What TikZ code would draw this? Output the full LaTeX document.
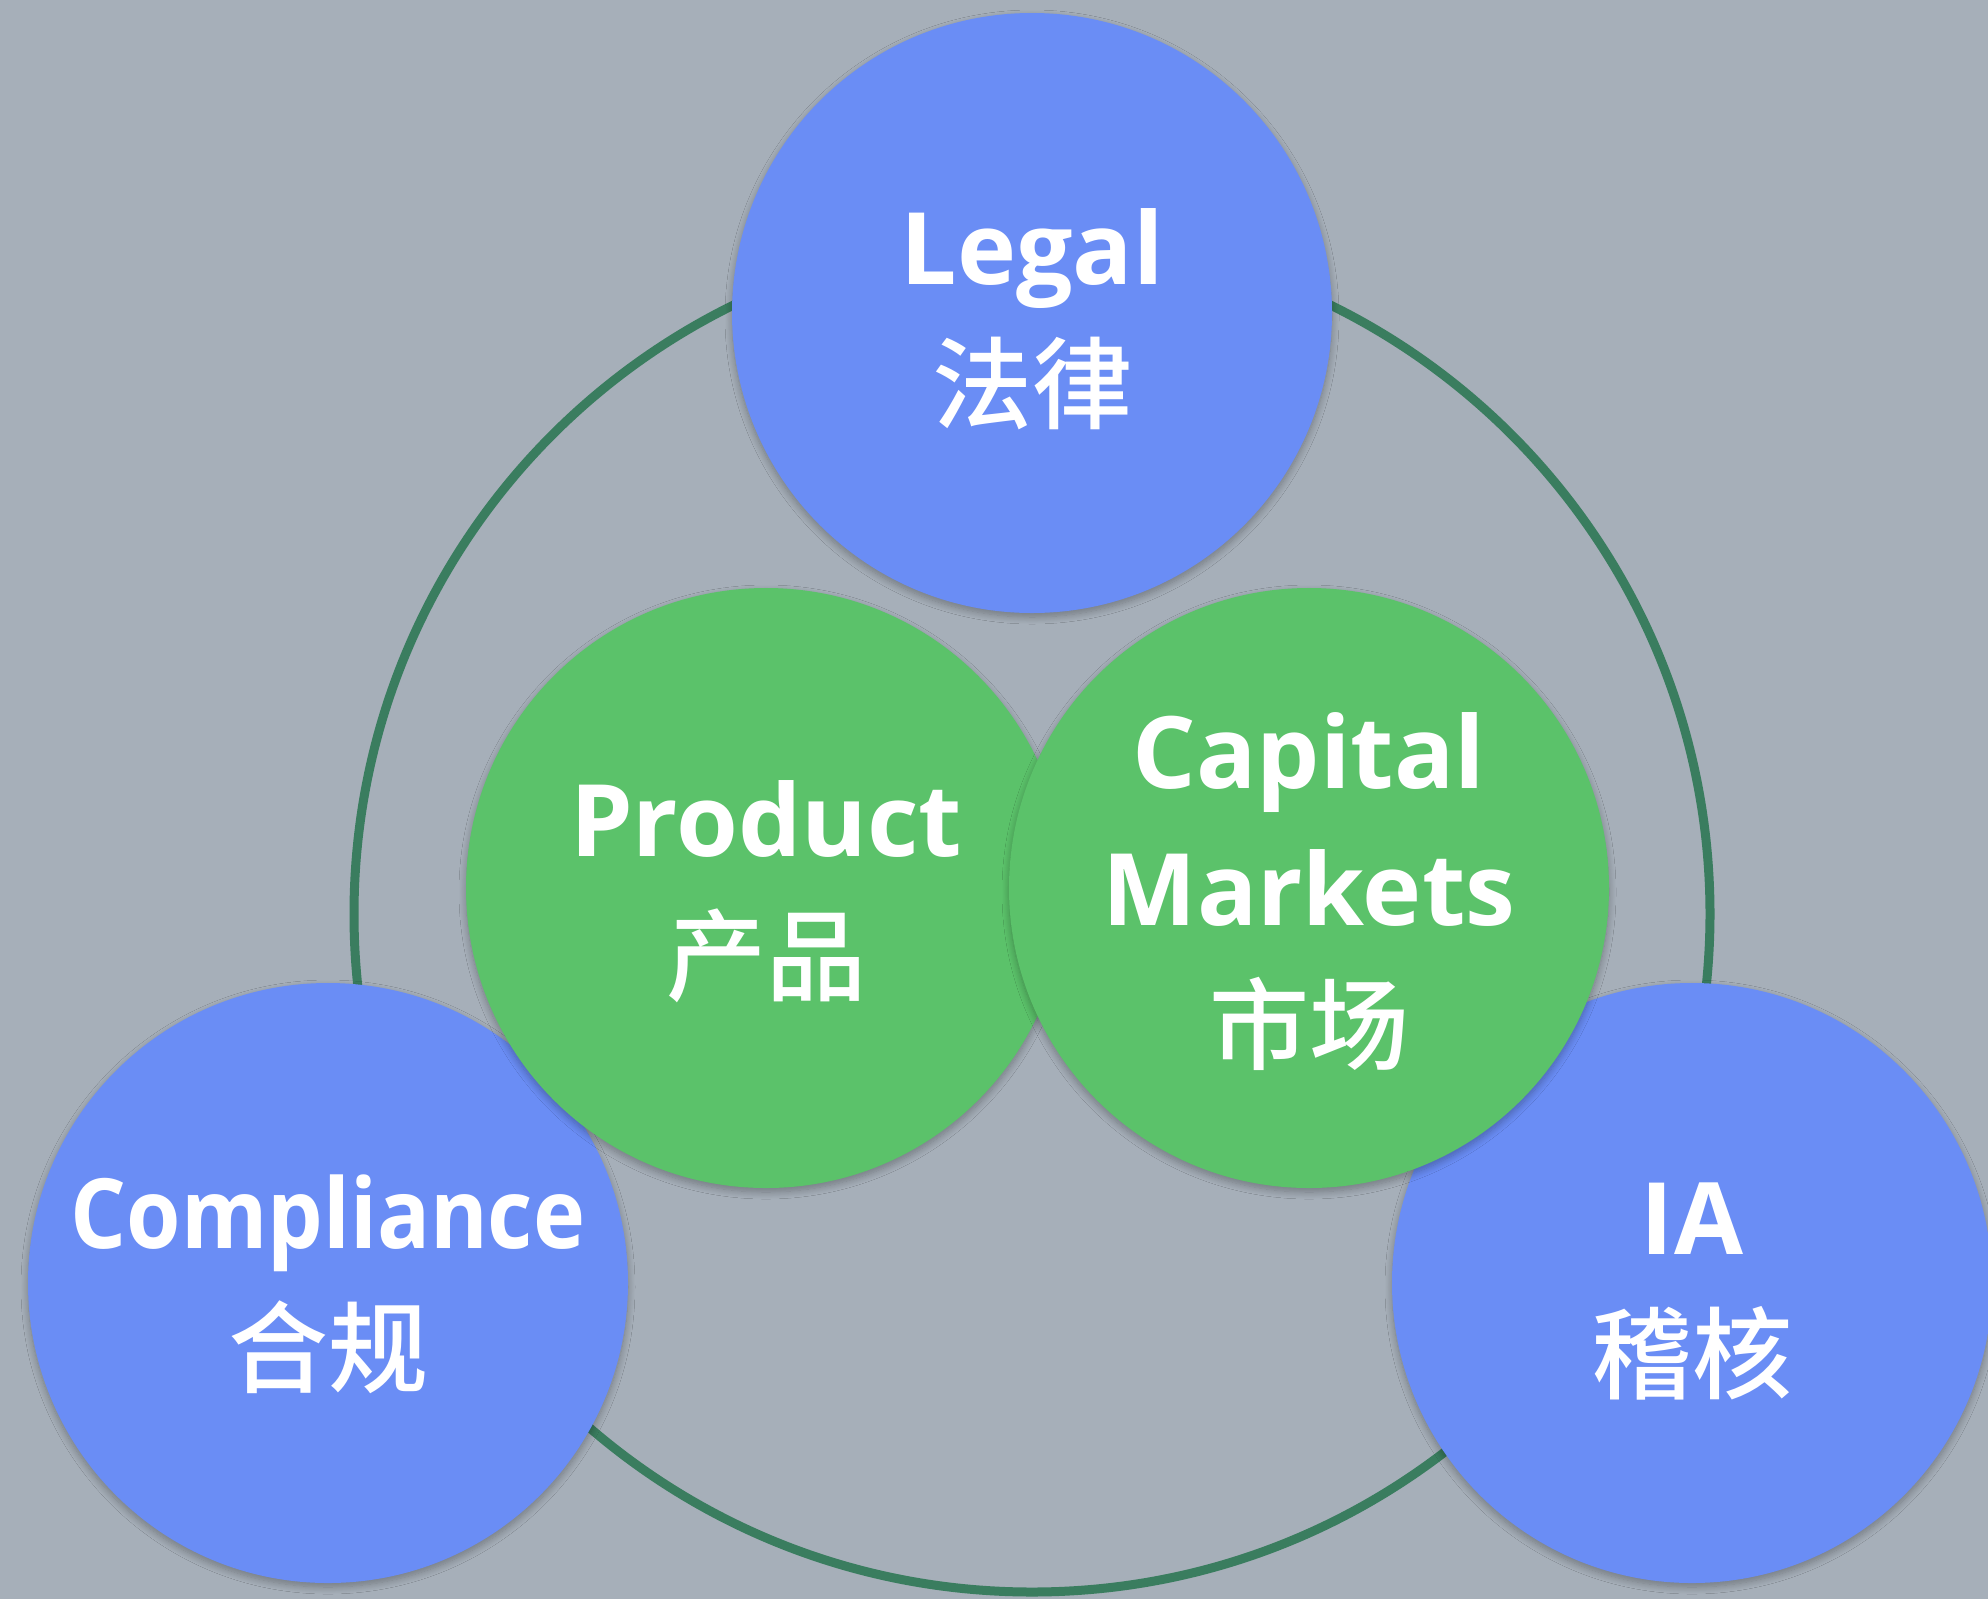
\documentclass[tikz,border=0pt]{standalone}
\usepackage{fontspec}
\usepackage{graphicx}
\setmainfont{Open Sans}
\newfontfamily\cjk{Noto Sans CJK SC Medium}
\usetikzlibrary{shadows.blur}
\definecolor{bgc}{RGB}{166,175,185}
\definecolor{ringc}{RGB}{58,125,95}
\definecolor{bluec}{RGB}{106,141,245}
\definecolor{greenc}{RGB}{91,194,106}
\newcommand{\zh}[1]{{\cjk\mdseries #1}}
\tikzset{
  bubble/.style={circle, minimum size=600pt, inner sep=0pt,
    blur shadow={shadow xshift=0pt, shadow yshift=-4pt, shadow blur radius=7pt, shadow blur steps=10, shadow opacity=30}},
  bluebubble/.style={bubble, fill=bluec},
  greenbubble/.style={bubble, fill=greenc},
  label text/.style={text=white, align=center, inner sep=0pt,
    font=\fontsize{100}{137}\selectfont\bfseries},
  bigring/.style={circle, draw=ringc, line width=9pt, minimum size=1356pt, inner sep=0pt}
}
\begin{document}
\begin{tikzpicture}[x=1pt,y=-1pt]
\fill[bgc] (0,0) rectangle (1988,1599);
\useasboundingbox (0,0) rectangle (1988,1599);
\node[bigring] (ring) at (1032,914) {};
\node[bluebubble] (legal) at (1032,313) {};
\node[bluebubble] (compliance) at (328,1283) {};
\node[bluebubble] (ia) at (1692,1283) {};
\node[greenbubble] (product) at (766,888) {};
\node[greenbubble] (capital) at (1309,888) {};
\node[label text] (legalt) at ([yshift=-6pt]legal.center) {Legal\\\zh{法律}};
\node[label text] (compliancet) at ([yshift=-1pt]compliance.center) {\scalebox{0.88}[0.97]{Compliance}\\\zh{合规}};
\node[label text] (iat) at ([yshift=-8pt]ia.center) {IA\\\zh{稽核}};
\node[label text] (productt) at ([yshift=-4pt]product.center) {Product\\\zh{产品}};
\node[label text] (capitalt) at ([yshift=-4pt]capital.center) {Capital\\Markets\\\zh{市场}};
\end{tikzpicture}
\end{document}
